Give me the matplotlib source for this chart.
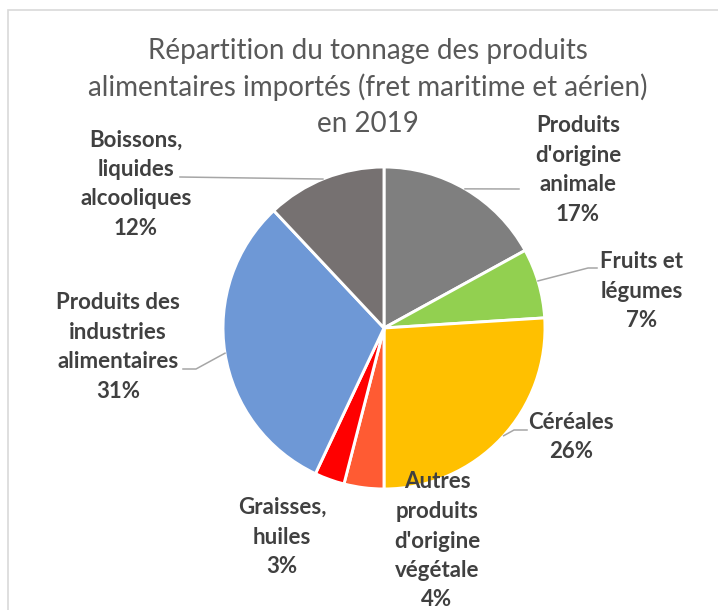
import numpy as np
import matplotlib.pyplot as plt
from matplotlib.patches import Rectangle

# data
categories = ["Produits\nd'origine\nanimale", "Fruits et\nlégumes", "Céréales",
              "Autres\nproduits\nd'origine\nvégétale", "Graisses,\nhuiles",
              "Produits des\nindustries\nalimentaires", "Boissons,\nliquides\nalcooliques"]
shares = [17, 7, 26, 4, 3, 31, 12]
colors = ["#7F7F7F", "#92D050", "#FFC000", "#FF5B33", "#FF0000", "#6E98D6", "#767171"]
title_lines = ["Répartition du tonnage des produits",
               "alimentaires importés (fret maritime et aérien)",
               "en 2019"]

# label layout (pixel coords, y from top)
label_pos = [(578, 170), (642, 291), (571, 437), (437, 541), (282, 537), (118, 347), (136, 184)]
# leader lines: angle on pie edge, elbow, end (None = no leader)
leaders = [(59.8, None, (519, 189)), (17, (588, 268), (597, 268)), (-42, (514, 430), (527, 430)),
           None, None, (189, (196, 369), (183, 369)), (112.3, None, (180, 177))]

W, H = 718, 610
cx, cy, r = 384, 328, 161

plt.rcParams['font.family'] = ['Lato', 'DejaVu Sans']
fig = plt.figure(figsize=(W / 100, H / 100), dpi=100)
ax = fig.add_axes([0, 0, 1, 1])

ax.pie(shares, colors=colors, startangle=90, counterclock=False, center=(cx, H - cy), radius=r,
       wedgeprops=dict(edgecolor='white', linewidth=2.1))
ax.set_xlim(0, W)
ax.set_ylim(0, H)
ax.set_aspect('auto')
ax.axis('off')

# chart frame
ax.add_patch(Rectangle((8, -10), W + 10, H, fill=False, edgecolor='#D9D9D9', linewidth=1.2))

# title, one text per line
for i, line in enumerate(title_lines):
    ax.text(368, H - (51 + 36.5 * i), line, ha='center', va='center', fontsize=20, color='#595959')

for lab, s, (x, y) in zip(categories, shares, label_pos):
    ax.text(x, H - y, f"{lab}\n{s}%", ha='center', va='center', fontsize=16, fontweight='bold',
            color='#404040', linespacing=1.5)

for ld in leaders:
    if ld is None:
        continue
    ang, elbow, end = ld
    a = np.radians(ang)
    px, py = cx + r * np.cos(a), H - cy + r * np.sin(a)
    xs, ys = [px], [py]
    if elbow:
        xs.append(elbow[0]); ys.append(H - elbow[1])
    xs.append(end[0]); ys.append(H - end[1])
    ax.plot(xs, ys, color='#A6A6A6', linewidth=1.1)

fig.savefig('out.png', dpi=100)
